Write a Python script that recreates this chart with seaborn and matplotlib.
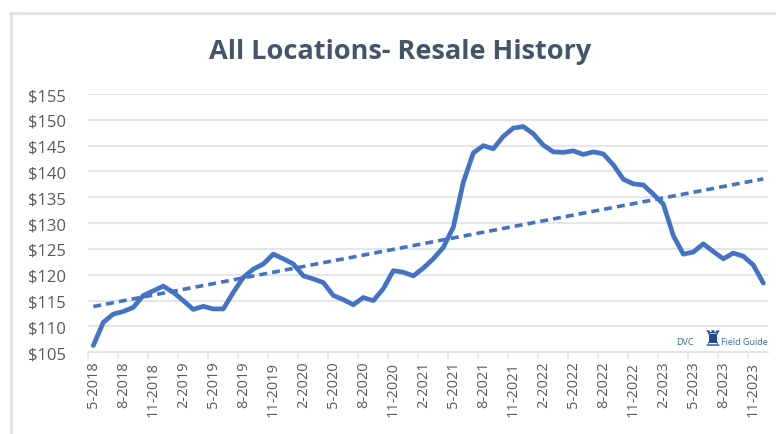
import numpy as np
import pandas as pd
import matplotlib
matplotlib.use("Agg")
import matplotlib.pyplot as plt
from matplotlib.lines import Line2D
import seaborn as sns

# Monthly average resale price, 5-2018 .. 12-2023
months = pd.period_range("2018-05", "2023-12", freq="M")
prices = [106.3, 110.8, 112.4, 112.9, 113.7, 116.0, 116.9, 117.8, 116.6, 115.0,
          113.3, 113.9, 113.4, 113.4, 116.6, 119.5, 121.1, 122.1, 124.0, 123.1,
          122.1, 119.8, 119.2, 118.5, 116.0, 115.2, 114.2, 115.6, 115.0, 117.3,
          120.8, 120.5, 119.8, 121.3, 123.1, 125.3, 129.2, 137.9, 143.6, 145.0,
          144.4, 146.8, 148.4, 148.7, 147.3, 145.1, 143.8, 143.7, 144.0, 143.3,
          143.8, 143.4, 141.3, 138.5, 137.6, 137.4, 135.6, 133.7, 127.6, 124.0,
          124.4, 126.0, 124.5, 123.1, 124.2, 123.6, 121.9, 118.4]
month_labels = [f"{p.month}-{p.year}" for p in months]
y_ticks = list(range(105, 160, 5))

df = pd.DataFrame({"idx": np.arange(len(prices)), "price": prices})

blue = "#4472C4"
grid_c = "#E3E7EC"
text_c = "#595959"

sns.set_theme(style="white")
plt.rcParams["font.family"] = ["Open Sans", "DejaVu Sans"]

fig = plt.figure(figsize=(7.76, 4.35), dpi=100)
ax = fig.add_axes([88.3 / 776, 1 - 353.3 / 435, 680 / 776, 258.3 / 435])

sns.lineplot(data=df, x="idx", y="price", ax=ax, color=blue, lw=3.4,
             solid_joinstyle="round", solid_capstyle="round", zorder=3)
sns.regplot(data=df, x="idx", y="price", ax=ax, scatter=False, ci=None,
            truncate=True, color=blue,
            line_kws={"lw": 2.6, "ls": (0, (2.2, 1.4)), "zorder": 2})

ax.set_xlim(-0.5, len(prices) - 0.5)
ax.set_ylim(105, 155)
ax.set_yticks(y_ticks)
ax.set_yticklabels([f"${v}" for v in y_ticks], fontsize=12, color=text_c)
ax.set_xticks(df["idx"][::3])
ax.set_xticklabels(month_labels[::3], rotation=90, fontsize=10.5, color=text_c)
ax.set_xticks(np.arange(-0.5, len(prices), 3), minor=True)
ax.tick_params(axis="x", which="major", length=0, pad=6)
ax.tick_params(axis="x", which="minor", length=5, width=1.2, color=grid_c, bottom=True)
ax.tick_params(axis="y", length=0, pad=16)
ax.set_xlabel("")
ax.set_ylabel("")
ax.grid(axis="y", color=grid_c, lw=1.5)
ax.set_axisbelow(True)
for s in ["top", "right", "left"]:
    ax.spines[s].set_visible(False)
ax.spines["bottom"].set_color(grid_c)
ax.spines["bottom"].set_linewidth(1.5)

fig.text(400 / 776, 1 - 52 / 435, "All Locations- Resale History", ha="center",
         va="center", fontsize=19.5, fontweight="bold", color="#44546A")

# chart-area border (top and left)
fig.add_artist(Line2D([10 / 776, 1], [1 - 14 / 435] * 2, color="#DDE2E8", lw=2))
fig.add_artist(Line2D([11 / 776] * 2, [0, 1 - 14 / 435], color="#DDE2E8", lw=2))

# watermark
fig.text(694 / 776, 1 - 343 / 435, "DVC", ha="right", va="center", fontsize=6.5, color="#3A6A9E")
fig.text(712 / 776, 1 - 340 / 435, "\u265c", ha="center", va="center", fontsize=16, color="#1F4E8C",
         family=["DejaVu Sans"])
fig.text(721 / 776, 1 - 343 / 435, "Field Guide", ha="left", va="center", fontsize=6.5, color="#3A6A9E")

fig.savefig("out.png", dpi=100, facecolor="white")
